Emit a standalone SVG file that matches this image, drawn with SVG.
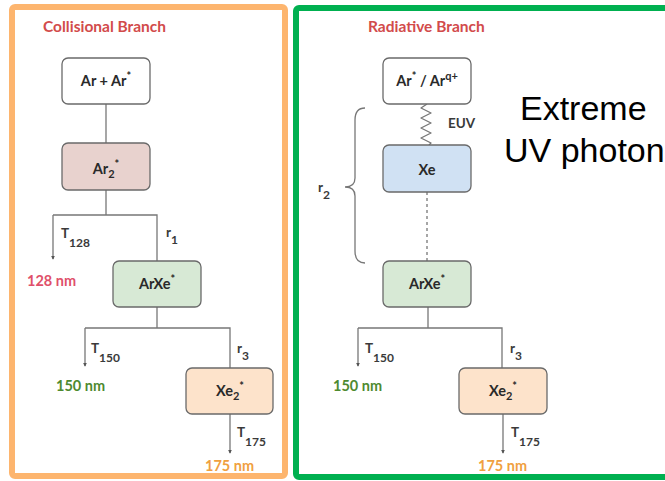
<svg xmlns="http://www.w3.org/2000/svg" width="665" height="481" viewBox="0 0 665 481">
<style>
.frame{fill:none;stroke-width:6}
.box{stroke:#6a6a6a;stroke-width:1.3}
.bt{font-family:Lato,"Liberation Sans",sans-serif;font-weight:bold;font-size:14.5px;fill:#2a2a2a;text-anchor:middle}
.lbl{font-family:Lato,"Liberation Sans",sans-serif;font-weight:bold;font-size:13.5px;fill:#3a3a3a}
.sub{font-size:12px}
.sup{font-size:11px}
.title{font-family:Lato,"Liberation Sans",sans-serif;font-weight:bold;font-size:15.5px;fill:#d24b4b}
.nm{font-family:Lato,"Liberation Sans",sans-serif;font-weight:bold;font-size:14.5px}
.ln{stroke:#777;stroke-width:1.3;fill:none}
.arr{marker-end:url(#ah)}
.big{font-family:"Liberation Sans",Arial,sans-serif;font-size:34px;fill:#000}
</style>
<defs>
<marker id="ah" viewBox="0 0 6 6" refX="5" refY="3" markerWidth="4" markerHeight="4" orient="auto" markerUnits="userSpaceOnUse">
<path d="M0,0 L6,3 L0,6 z" fill="#555"/>
</marker>
</defs>
<rect width="665" height="481" fill="#fff"/>
<rect class="frame" x="12" y="7" width="273" height="469" rx="3" stroke="#fdb56e"/>
<rect class="frame" x="296" y="8" width="400" height="469" rx="3" stroke="#00b050"/>

<text class="title" x="43" y="32">Collisional Branch</text>
<text class="title" x="368" y="32">Radiative Branch</text>

<g id="connectors">
<path class="ln" d="M106,104 V143"/>
<path class="ln" d="M106,190 V215 M53,215 H157 V261"/>
<path class="ln arr" d="M53,215 V259"/>
<path class="ln" d="M157,307 V328 M85,328 H230 V368"/>
<path class="ln arr" d="M85,328 V366"/>
<path class="ln arr" d="M230,414 V453"/>
<path class="ln" stroke-linejoin="round" d="M427,104 L421,108 L431,113 L421,118 L431,123 L421,128 L431,133 L421,138 L431,143 L429,145"/>
<path class="ln" stroke-dasharray="3,3" d="M427,192 V261"/>
<path class="ln" d="M365,108 Q355,108 355,120 L355,178 Q355,187 345,187 Q355,187 355,196 L355,251 Q355,263 365,263"/>
<path class="ln" d="M428,307 V328 M358,328 H502 V368"/>
<path class="ln arr" d="M358,328 V366"/>
<path class="ln arr" d="M503,414 V453"/>
</g>

<g id="n_ar_ar">
<rect class="box" x="62" y="58" width="88" height="46" rx="6" fill="#fff"/>
<text class="bt" x="106" y="86">Ar + Ar<tspan class="sup" dy="-6">*</tspan></text>
</g>
<g id="n_ar2">
<rect class="box" x="62" y="143" width="88" height="47" rx="6" fill="#e8d2ce"/>
<text class="bt" x="106" y="174">Ar<tspan class="sup" dy="4">2</tspan><tspan class="sup" dy="-10">*</tspan></text>
</g>
<g id="n_arxe_c">
<rect class="box" x="113" y="261" width="88" height="46" rx="6" fill="#d7e9d5"/>
<text class="bt" x="157" y="289">ArXe<tspan class="sup" dy="-6">*</tspan></text>
</g>
<g id="n_xe2_c">
<rect class="box" x="186" y="368" width="87" height="46" rx="6" fill="#fde3cb"/>
<text class="bt" x="230" y="396">Xe<tspan class="sup" dy="4">2</tspan><tspan class="sup" dy="-10">*</tspan></text>
</g>

<g id="n_ar_arq">
<rect class="box" x="383" y="58" width="88" height="46" rx="6" fill="#fff"/>
<text class="bt" x="427" y="86">Ar<tspan class="sup" dy="-6">*</tspan><tspan dy="6"> / Ar</tspan><tspan class="sup" dy="-6">q+</tspan></text>
</g>
<g id="n_xe">
<rect class="box" x="383" y="145" width="88" height="47" rx="6" fill="#d0e1f3"/>
<text class="bt" x="427" y="175">Xe</text>
</g>
<g id="n_arxe_r">
<rect class="box" x="383" y="261" width="88" height="46" rx="6" fill="#d7e9d5"/>
<text class="bt" x="427" y="289">ArXe<tspan class="sup" dy="-6">*</tspan></text>
</g>
<g id="n_xe2_r">
<rect class="box" x="459" y="368" width="88" height="46" rx="6" fill="#fde3cb"/>
<text class="bt" x="503" y="396">Xe<tspan class="sup" dy="4">2</tspan><tspan class="sup" dy="-10">*</tspan></text>
</g>

<g id="labels">
<text class="lbl" x="61" y="238">T<tspan class="sub" dy="9">128</tspan></text>
<text class="lbl" x="166" y="237">r<tspan class="sub" dy="7">1</tspan></text>
<text class="nm" x="27" y="286" fill="#e0506a">128 nm</text>
<text class="lbl" x="91" y="353">T<tspan class="sub" dy="9">150</tspan></text>
<text class="lbl" x="237" y="353">r<tspan class="sub" dy="7">3</tspan></text>
<text class="nm" x="56" y="391" fill="#4e8a30">150 nm</text>
<text class="lbl" x="237" y="437">T<tspan class="sub" dy="9">175</tspan></text>
<text class="nm" x="205" y="471" fill="#f0a040">175 nm</text>

<text class="lbl" x="448" y="128">EUV</text>
<text class="lbl" x="318" y="192">r<tspan class="sub" dy="7">2</tspan></text>
<text class="lbl" x="365" y="353">T<tspan class="sub" dy="9">150</tspan></text>
<text class="lbl" x="510" y="353">r<tspan class="sub" dy="7">3</tspan></text>
<text class="nm" x="333" y="391" fill="#4e8a30">150 nm</text>
<text class="lbl" x="511" y="437">T<tspan class="sub" dy="9">175</tspan></text>
<text class="nm" x="478" y="471" fill="#f0a040">175 nm</text>
</g>

<text class="big" x="520" y="120">Extreme</text>
<text class="big" x="504" y="162">UV photon</text>
</svg>
